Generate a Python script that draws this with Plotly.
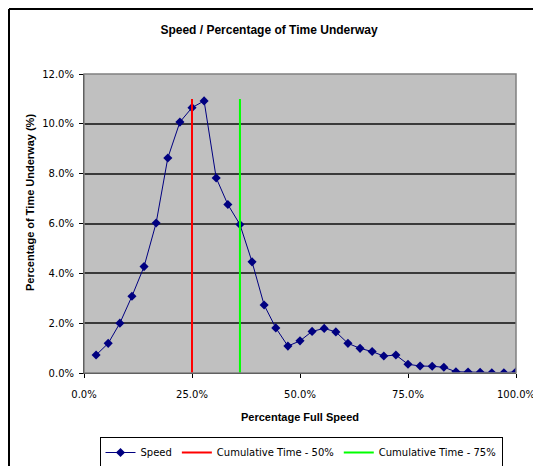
import plotly.graph_objects as go

# Speed (% of full speed) and percentage of time underway (%)
speed_pct = [2.8, 5.6, 8.3, 11.1, 13.9, 16.7, 19.4, 22.2, 25.0, 27.8, 30.6, 33.3,
             36.1, 38.9, 41.7, 44.4, 47.2, 50.0, 52.8, 55.6, 58.3, 61.1, 63.9, 66.7,
             69.4, 72.2, 75.0, 77.8, 80.6, 83.3, 86.1, 88.9, 91.7, 94.4, 97.2, 100.0]
time_pct = [0.72, 1.19, 2.00, 3.08, 4.27, 6.02, 8.63, 10.07, 10.65, 10.92, 7.83, 6.76,
            5.96, 4.46, 2.73, 1.81, 1.08, 1.29, 1.67, 1.79, 1.65, 1.19, 0.99, 0.86,
            0.68, 0.72, 0.35, 0.28, 0.27, 0.23, 0.05, 0.04, 0.03, 0.01, 0.01, 0.05]

cum50_x = [25.0, 25.0]
cum50_y = [0.0, 11.0]
cum75_x = [36.1, 36.1]
cum75_y = [0.0, 11.0]

x_ticks = [0, 25, 50, 75, 100]
y_ticks = [0, 2, 4, 6, 8, 10, 12]

def frac(v):
    return [a / 100 for a in v]

fig = go.Figure()
fig.add_trace(go.Scatter(
    x=frac(speed_pct), y=frac(time_pct), name="Speed", mode="lines+markers",
    line=dict(color="#000080", width=1),
    marker=dict(symbol="diamond", size=7, color="#000080")))
fig.add_trace(go.Scatter(
    x=frac(cum50_x), y=frac(cum50_y), name="Cumulative Time - 50%", mode="lines",
    line=dict(color="#FF0000", width=2)))
fig.add_trace(go.Scatter(
    x=frac(cum75_x), y=frac(cum75_y), name="Cumulative Time - 75%", mode="lines",
    line=dict(color="#00FF00", width=2)))

# page body has an 8px margin; work in screen coordinates
OFF = 8
SL, SR, ST, SB = 84, 516, 74, 373  # plot area in screen px
W, H = 541 - OFF, 466 - OFF
L, T = SL - OFF, ST - OFF
R, B = W - (SR - OFF), H - (SB - OFF)
pw, ph = SR - SL, SB - ST

def px(sx):
    return (sx - SL) / pw

def py(sy):
    return (SB - sy) / ph

tickfont = dict(family="DejaVu Sans", size=10, color="#000000")
fig.update_layout(
    width=W, height=H,
    margin=dict(l=L, r=R, t=T, b=B, autoexpand=False),
    paper_bgcolor="white", plot_bgcolor="#C0C0C0",
    font=dict(family="Liberation Sans", color="#000000"),
    title=dict(text="<b>Speed / Percentage of Time Underway</b>",
               x=(269 - OFF) / W, xanchor="center", xref="container",
               y=1 - (30 - OFF) / H, yanchor="middle", yref="container",
               font=dict(family="Liberation Sans", size=12, color="#000000")),
    xaxis=dict(range=[0, 1], tickvals=frac(x_ticks), tickformat=".1%",
               showgrid=False, zeroline=False, showline=True, linecolor="#000000",
               linewidth=1, ticks="outside", ticklen=4, tickcolor="#000000",
               tickfont=tickfont, automargin=False, ticklabelstandoff=8),
    yaxis=dict(range=[0, 0.12], tickvals=frac(y_ticks), tickformat=".1%",
               showgrid=True, gridcolor="#3a3a3a", gridwidth=1.5, zeroline=False,
               showline=True, linecolor="#000000", linewidth=1,
               ticks="outside", ticklen=4, tickcolor="#000000", tickfont=tickfont,
               automargin=False, ticklabelstandoff=3),
    showlegend=True,
    legend=dict(orientation="h", xref="container", yref="container",
                x=(301 - OFF) / W, xanchor="center",
                y=1 - (437 - OFF) / H, yanchor="top",
                bordercolor="#000000", borderwidth=1, bgcolor="white",
                font=dict(family="DejaVu Sans", size=10, color="#000000"),
                itemwidth=30, tracegroupgap=0),
    shapes=[
        dict(type="rect", xref="paper", yref="paper", x0=0, x1=1, y0=0, y1=1,
             line=dict(color="#808080", width=1.5), layer="above"),
        dict(type="line", xref="paper", yref="paper",
             x0=px(9), x1=px(9), y0=-1, y1=py(9),
             line=dict(color="#000000", width=2)),
        dict(type="line", xref="paper", yref="paper",
             x0=px(9), x1=2, y0=py(9), y1=py(9),
             line=dict(color="#000000", width=2)),
    ],
    annotations=[
        dict(text="<b>Percentage Full Speed</b>", xref="paper", yref="paper",
             x=px(300), y=py(417), xanchor="center", yanchor="middle",
             showarrow=False, font=dict(family="Liberation Sans", size=11)),
        dict(text="<b>Percentage of Time Underway (%)</b>", xref="paper", yref="paper",
             x=px(30), y=py(203), xanchor="center", yanchor="middle",
             textangle=-90, showarrow=False, font=dict(family="Liberation Sans", size=11)),
    ],
)

fig.write_html("out.html")
